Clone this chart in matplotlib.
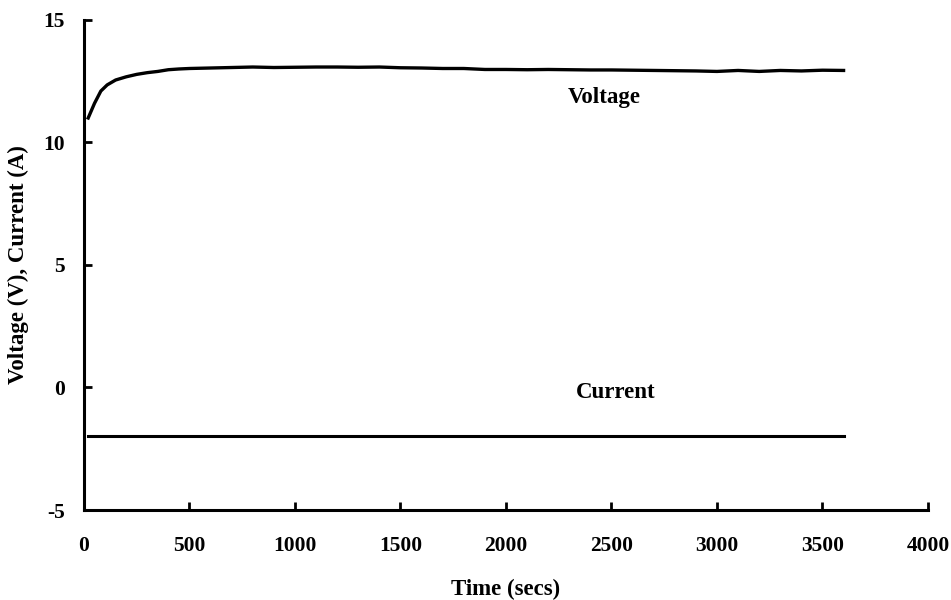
import matplotlib
matplotlib.use('Agg')
import matplotlib.pyplot as plt

# Time (secs) and readings taken off the chart
time_v = [20, 50, 80, 110, 150, 200, 250, 300, 350, 400, 450, 500,
          600, 700, 800, 900, 1000, 1100, 1200, 1300, 1400, 1500, 1600,
          1700, 1800, 1900, 2000, 2100, 2200, 2300, 2400, 2500, 2600,
          2700, 2800, 2900, 3000, 3100, 3200, 3300, 3400, 3500, 3600]
voltage = [11.0, 11.6, 12.1, 12.35, 12.55, 12.68, 12.78, 12.85, 12.9, 12.97, 13.0, 13.02,
           13.04, 13.06, 13.08, 13.06, 13.07, 13.08, 13.08, 13.07, 13.08, 13.05, 13.04,
           13.02, 13.02, 12.98, 12.98, 12.97, 12.98, 12.97, 12.96, 12.96, 12.95,
           12.94, 12.93, 12.92, 12.90, 12.94, 12.90, 12.94, 12.92, 12.95, 12.94]

time_c = [20, 3600]
current = [-2.0, -2.0]

plt.rcParams['font.family'] = ['Liberation Serif', 'DejaVu Serif']
plt.rcParams['font.weight'] = 'bold'
plt.rcParams['axes.unicode_minus'] = False

fig = plt.figure(figsize=(9.51, 6), dpi=100)
ax = fig.add_axes([0.0883, 0.15, 0.8875, 0.8167])

ax.plot(time_v, voltage, color='black', linewidth=2.4)
ax.plot(time_c, current, color='black', linewidth=2.2)

# series labels
ax.text(2464, 11.82, 'Voltage', fontsize=16.5, fontweight='bold', ha='center', va='center')
ax.text(2521, -0.22, 'Current', fontsize=16.5, fontweight='bold', ha='center', va='center')

ax.set_xlim(0, 4000)
ax.set_ylim(-5, 15)
ax.set_xticks(range(0, 4001, 500))
ax.set_yticks(range(-5, 16, 5))

for s in ['top', 'right']:
    ax.spines[s].set_visible(False)
for s in ['left', 'bottom']:
    ax.spines[s].set_linewidth(2.2)

ax.tick_params(direction='in', length=6, width=2, labelsize=15.5)
ax.tick_params(axis='x', pad=19)
ax.tick_params(axis='y', pad=14)

ax.set_xlabel('Time (secs)', fontsize=16.5, fontweight='bold', labelpad=16)
ax.set_ylabel('Voltage (V), Current (A)', fontsize=16.5, fontweight='bold', labelpad=10)

fig.savefig('out.png', dpi=100)
